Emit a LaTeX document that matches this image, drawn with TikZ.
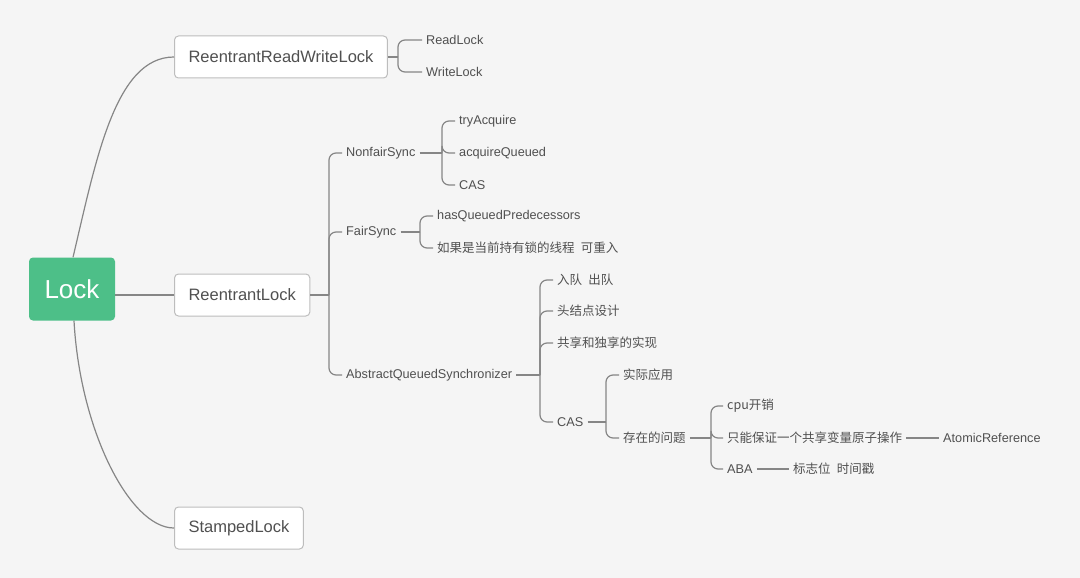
\documentclass[tikz,border=0pt]{standalone}
\usepackage{fontspec}
\setmainfont{Liberation Sans}
\newfontfamily\cjk[WordSpace=2.2]{Noto Sans CJK SC}
\definecolor{bg}{HTML}{F5F5F5}
\definecolor{lockgreen}{HTML}{4DBF88}
\definecolor{txt}{HTML}{505050}
\definecolor{branch}{HTML}{868686}
\definecolor{boxline}{HTML}{BDBDBD}

\begin{document}
\begin{tikzpicture}[x=1pt,y=-1pt,
	root/.style={fill=lockgreen, rounded corners=4pt, minimum width=86pt, minimum height=63pt,
		text=white, font=\fontsize{26}{30}\selectfont},
	topic/.style={draw=boxline, fill=white, line width=1pt, rounded corners=4pt, minimum height=42pt,
		inner xsep=14pt, anchor=west, text=txt, font=\fontsize{16.5}{20}\selectfont},
	leaf/.style={anchor=west, inner xsep=4pt, inner ysep=2pt, text=txt, font=\fontsize{12.7}{15}\selectfont},
	zh/.style={leaf, font=\cjk\fontsize{12.5}{15}\selectfont},
	link/.style={draw=branch, line width=1.2pt},
	fork/.style={link, rounded corners=7pt}]
	\fill[bg] (0,0) rectangle (1080,578);
	\useasboundingbox (0,0) rectangle (1080,578);

	% main topics
	\node[root] (lock) at (72,289) {Lock};
	\node[topic] (rrwl) at (174,57) {ReentrantReadWriteLock};
	\node[topic] (rl) at (174,295) {ReentrantLock};
	\node[topic] (sl) at (174,528) {StampedLock};

	\draw[link] (rl.west) -- (rl.west -| lock.east);
	\draw[link] ([xshift=1pt]lock.north) .. controls +(23,-97) and +(-59,0) .. (rrwl.west);
	\draw[link] ([xshift=2pt]lock.south) .. controls +(6,110) and +(-44,0) .. (sl.west);

	% ReentrantReadWriteLock
	\node[leaf] (rd) at (422,40) {ReadLock};
	\node[leaf] (wr) at (422,72) {WriteLock};
	\coordinate (j0) at (398,57);
	\draw[link] (rrwl.east) -- (j0);
	\foreach \c in {rd,wr} \draw[fork] (j0) |- (\c.west);

	% ReentrantLock
	\node[leaf] (ns) at (342,153) {NonfairSync};
	\node[leaf] (fs) at (342,232) {FairSync};
	\node[leaf] (aqs) at (342,375) {AbstractQueuedSynchronizer};
	\coordinate (j1) at (329,295);
	\draw[link] (rl.east) -- (j1);
	\foreach \c in {ns,fs,aqs} \draw[fork] (j1) |- (\c.west);

	% NonfairSync
	\node[leaf] (ta) at (455,121) {tryAcquire};
	\node[leaf] (aq) at (455,153) {acquireQueued};
	\node[leaf] (nc) at (455,185) {CAS};
	\coordinate (j2) at (442,153);
	\draw[link] (ns.east) -- (j2);
	\foreach \c in {ta,aq,nc} \draw[fork] (j2) |- (\c.west);

	% FairSync
	\node[leaf] (hq) at (433,216) {hasQueuedPredecessors};
	\node[zh] (re) at (433,248) {如果是当前持有锁的线程 可重入};
	\coordinate (j3) at (420,232);
	\draw[link] (fs.east) -- (j3);
	\foreach \c in {hq,re} \draw[fork] (j3) |- (\c.west);

	% AbstractQueuedSynchronizer
	\node[zh] (eq) at (553,280) {入队 出队};
	\node[zh] (hd) at (553,311) {头结点设计};
	\node[zh] (sh) at (553,343) {共享和独享的实现};
	\node[leaf] (cas) at (553,422) {CAS};
	\coordinate (j4) at (540,375);
	\draw[link] (aqs.east) -- (j4);
	\foreach \c in {eq,hd,sh,cas} \draw[fork] (j4) |- (\c.west);

	% CAS
	\node[zh] (app) at (619,375) {实际应用};
	\node[zh] (pb) at (619,438) {存在的问题};
	\coordinate (j5) at (606,422);
	\draw[link] (cas.east) -- (j5);
	\foreach \c in {app,pb} \draw[fork] (j5) |- (\c.west);

	% problems
	\node[zh] (cpu) at (723,406) {cpu开销};
	\node[zh] (one) at (723,438) {只能保证一个共享变量原子操作};
	\node[leaf] (aba) at (723,469) {ABA};
	\coordinate (j6) at (711,438);
	\draw[link] (pb.east) -- (j6);
	\foreach \c in {cpu,one,aba} \draw[fork] (j6) |- (\c.west);

	\node[leaf] (ar) at (939,438) {AtomicReference};
	\node[zh] (ts) at (789,469) {标志位 时间戳};
	\draw[link] (one.east) -- (ar.west);
	\draw[link] (aba.east) -- (ts.west);
\end{tikzpicture}
\end{document}
